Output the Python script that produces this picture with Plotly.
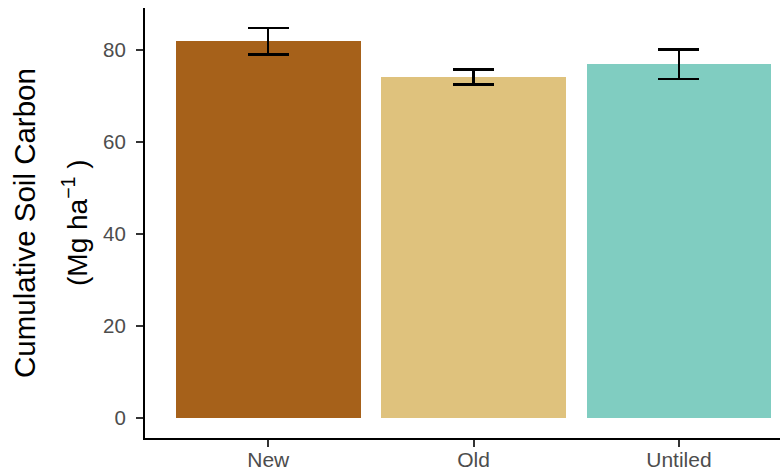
import plotly.graph_objects as go

# Cumulative soil carbon by tillage treatment (mean ± SE)
treatments = ["New", "Old", "Untiled"]
carbon_mean = [81.9, 74.1, 76.85]
carbon_se = [2.9, 1.65, 3.2]
bar_colors = ["#A6611A", "#DFC27D", "#80CDC1"]
y_ticks = [0, 20, 40, 60, 80]

W, H = 780, 471
ML, MR, MT, MB = 145, 0, 8, 33
plot_w = W - ML - MR

fig = go.Figure(
    go.Bar(
        x=treatments,
        y=carbon_mean,
        width=0.9,
        marker=dict(color=bar_colors, line=dict(width=0)),
        error_y=dict(
            type="data",
            array=carbon_se,
            visible=True,
            color="black",
            thickness=2.4,
            width=20.5,
        ),
        showlegend=False,
    )
)

font_family = "Liberation Sans, Arial, sans-serif"

fig.update_layout(
    width=W,
    height=H,
    margin=dict(l=ML, r=MR, t=MT, b=MB),
    paper_bgcolor="white",
    plot_bgcolor="white",
    bargap=0,
    xaxis=dict(
        range=[-0.6, 2.492],
        automargin=False,
        showgrid=False,
        zeroline=False,
        showline=True,
        linecolor="black",
        linewidth=2,
        ticks="outside",
        ticklen=7,
        tickwidth=1.5,
        tickcolor="#333333",
        ticklabelstandoff=-5,
        tickfont=dict(family=font_family, size=21, color="#4D4D4D"),
    ),
    yaxis=dict(
        range=[-4.3, 89.1],
        automargin=False,
        tickvals=y_ticks,
        showgrid=False,
        zeroline=False,
        showline=True,
        linecolor="black",
        linewidth=2,
        ticks="outside",
        ticklen=7,
        tickwidth=1.5,
        tickcolor="#333333",
        ticklabelstandoff=6,
        tickfont=dict(family=font_family, size=20.5, color="#4D4D4D"),
    ),
    annotations=[
        dict(
            text="Cumulative Soil Carbon",
            xref="paper", yref="paper",
            x=(24 - ML) / plot_w, y=0.5,
            xanchor="center", yanchor="middle",
            textangle=-90,
            showarrow=False,
            font=dict(family=font_family, size=29.5, color="black"),
        ),
        dict(
            text="(Mg ha<sup>\u22121</sup> )",
            xref="paper", yref="paper",
            x=(75 - ML) / plot_w, y=0.5,
            xanchor="center", yanchor="middle",
            textangle=-90,
            showarrow=False,
            font=dict(family=font_family, size=28, color="black"),
        ),
    ],
)

fig.write_html("out.html")
